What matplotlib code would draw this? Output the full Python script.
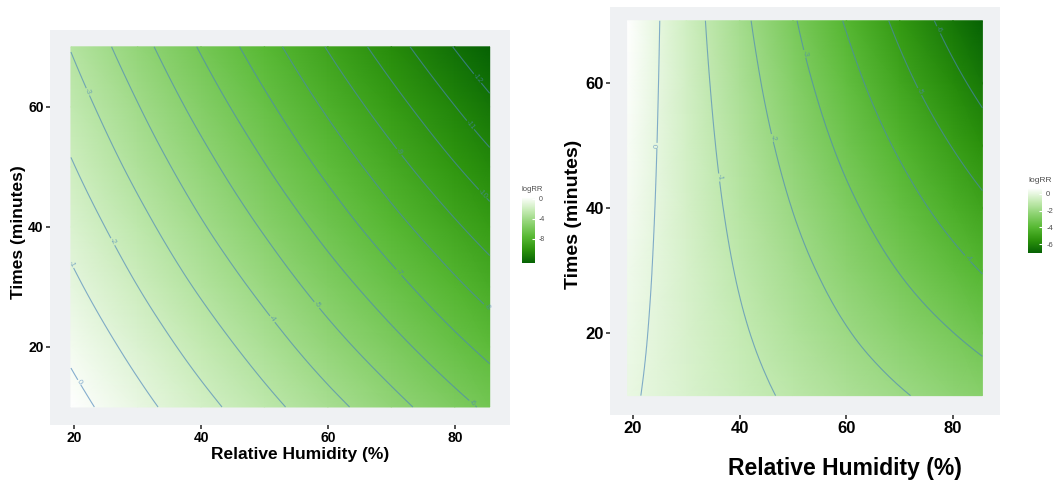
import numpy as np
import matplotlib.pyplot as plt
import matplotlib.tri as mtri
from matplotlib.colors import LinearSegmentedColormap

plt.rcParams['font.family'] = ['Liberation Sans', 'DejaVu Sans']
plt.rcParams['axes.unicode_minus'] = False

# left panel: logRR at grid nodes
rh_left = [19.5, 30, 40, 50, 60, 70, 80, 85.5]
time_left = [10, 20, 30, 40, 50, 60, 70]
logrr_left = [
    [0.37, -0.68, -1.67, -2.67, -3.66, -4.66, -5.66, -6.20],
    [-0.20, -1.33, -2.41, -3.48, -4.57, -5.64, -6.72, -7.31],
    [-0.77, -1.99, -3.15, -4.30, -5.47, -6.62, -7.79, -8.42],
    [-1.34, -2.64, -3.89, -5.12, -6.37, -7.61, -8.85, -9.53],
    [-1.91, -3.30, -4.62, -5.94, -7.27, -8.59, -9.92, -10.64],
    [-2.48, -3.95, -5.36, -6.76, -8.17, -9.57, -10.98, -11.75],
    [-3.05, -4.61, -6.10, -7.58, -9.07, -10.56, -12.05, -12.86],
]
levels_left = list(range(-12, 1))
cbar_ticks_left = [0, -4, -8]

# right panel
rh_right = [19, 30, 40, 50, 60, 70, 80, 85.5]
time_right = [10, 20, 30, 40, 50, 60, 70]
logrr_right = [
    [0.10, -0.34, -0.73, -1.13, -1.52, -1.92, -2.31, -2.53],
    [0.20, -0.38, -0.90, -1.42, -1.95, -2.47, -2.99, -3.28],
    [0.30, -0.42, -1.07, -1.72, -2.37, -3.03, -3.68, -4.04],
    [0.40, -0.46, -1.24, -2.02, -2.80, -3.58, -4.36, -4.79],
    [0.50, -0.50, -1.41, -2.32, -3.23, -4.13, -5.04, -5.54],
    [0.60, -0.54, -1.58, -2.62, -3.65, -4.69, -5.73, -6.30],
    [0.70, -0.58, -1.75, -2.91, -4.08, -5.24, -6.41, -7.05],
]
levels_right = list(range(-6, 1))
cbar_ticks_right = [0, -2, -4, -6]

green_stops = ["#066204", "#2c930c", "#58b934", "#8cd270", "#c6ebb5", "#ffffff"]
cmap = LinearSegmentedColormap.from_list("logrr", green_stops)

W, H = 1054, 488
fig = plt.figure(figsize=(W / 100, H / 100), dpi=100)


def box(x0, y0, x1, y1):
    # pixel box measured from the top-left corner
    return [x0 / W, 1 - y1 / H, (x1 - x0) / W, (y1 - y0) / H]


def panel(ax_box, cb_box, rh, tm, z, levels, cb_ticks, xlim, ylim, tick_fs, cb_fs):
    ax = fig.add_axes(box(*ax_box))
    ax.set_facecolor('#eff1f3')
    X, Y = np.meshgrid(rh, tm)
    Z = np.array(z)
    mesh = ax.pcolormesh(X, Y, Z, cmap=cmap, shading='gouraud',
                         vmin=Z.min(), vmax=Z.max())
    tri = mtri.Triangulation(X.ravel(), Y.ravel())
    tri_f, z_f = mtri.UniformTriRefiner(tri).refine_field(Z.ravel(), subdiv=3)
    cs = ax.tricontour(tri_f, z_f, levels=levels, colors='#4a84bb',
                       linewidths=0.8, alpha=0.65, linestyles='solid')
    ax.clabel(cs, fmt='%d', fontsize=5.5, inline=True, inline_spacing=1)
    ax.set_xlim(*xlim)
    ax.set_ylim(*ylim)
    ax.set_xticks([20, 40, 60, 80])
    ax.set_yticks([20, 40, 60])
    for s in ax.spines.values():
        s.set_visible(False)
    ax.tick_params(length=3, width=1.2, color='#333333', labelsize=tick_fs,
                   pad=1.5, labelcolor='black')
    for lab in ax.get_xticklabels() + ax.get_yticklabels():
        lab.set_fontweight('bold')

    cax = fig.add_axes(box(*cb_box))
    cb = fig.colorbar(mesh, cax=cax, ticks=cb_ticks)
    cb.outline.set_visible(False)
    cax.tick_params(labelsize=cb_fs, length=2, direction='in', color='white',
                    labelcolor='#4d4d4d', pad=3)
    cax.set_title('logRR', fontsize=cb_fs + 0.5, color='#4d4d4d', loc='left', pad=4)
    return ax


panel((50, 30, 510, 425), (522, 197, 535, 263), rh_left, time_left, logrr_left,
      levels_left, cbar_ticks_left, (16.2, 88.7), (7, 72.8), 10, 5)
panel((610, 7, 1000, 415), (1028, 188, 1042, 253), rh_right, time_right, logrr_right,
      levels_right, cbar_ticks_right, (15.7, 88.8), (6.9, 72.2), 12, 5.5)

fig.text(300 / W, 1 - 454 / H, 'Relative Humidity (%)', ha='center', va='center',
         fontsize=12.5, fontweight='bold')
fig.text(19 / W, 1 - 232 / H, 'Times (minutes)', ha='center', va='center',
         rotation=90, fontsize=12.5, fontweight='bold')
fig.text(845 / W, 1 - 469 / H, 'Relative Humidity (%)', ha='center', va='center',
         fontsize=16.5, fontweight='bold')
fig.text(574 / W, 1 - 214 / H, 'Times (minutes)', ha='center', va='center',
         rotation=90, fontsize=14, fontweight='bold')

fig.savefig('out.png', dpi=100, facecolor='white')
